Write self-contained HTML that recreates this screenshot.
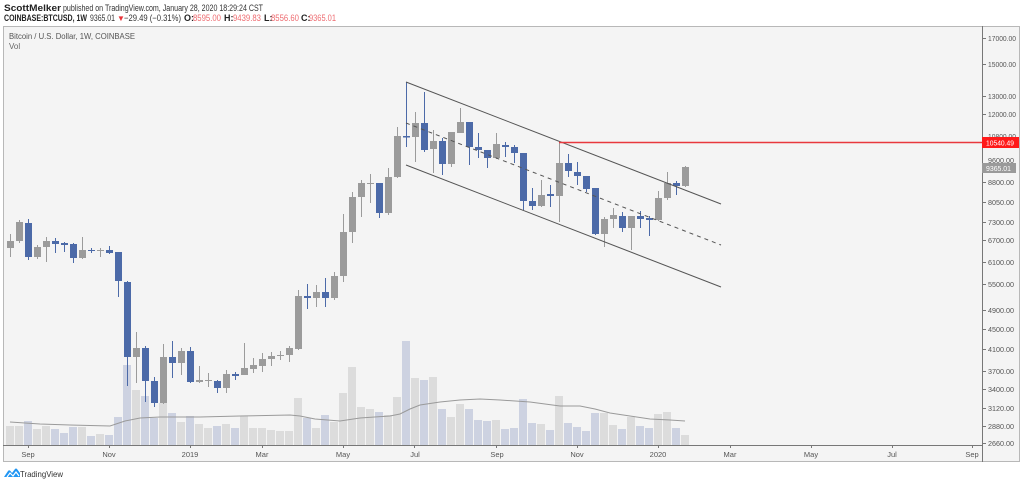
<!DOCTYPE html>
<html><head><meta charset="utf-8"><style>
html,body{margin:0;padding:0;background:#fff;width:1024px;height:484px;overflow:hidden}
svg{display:block}
text{font-family:"Liberation Sans",sans-serif}
</style></head><body>
<svg width="1024" height="484" viewBox="0 0 1024 484" xmlns="http://www.w3.org/2000/svg">
<rect width="1024" height="484" fill="#fff"/>
<!-- header -->
<text x="4" y="11" font-size="9" fill="#222"><tspan font-weight="bold" textLength="57" lengthAdjust="spacingAndGlyphs">ScottMelker</tspan></text>
<text x="63" y="11" font-size="9" fill="#333" textLength="200" lengthAdjust="spacingAndGlyphs">published on TradingView.com, January 28, 2020 18:29:24 CST</text>
<text x="4" y="21" font-size="9" font-weight="bold" fill="#222" textLength="83" lengthAdjust="spacingAndGlyphs">COINBASE:BTCUSD, 1W</text>
<text x="90" y="21" font-size="9" fill="#333" textLength="25" lengthAdjust="spacingAndGlyphs">9365.01</text>
<text x="117" y="21" font-size="8" fill="#e8343a">▼</text>
<text x="124" y="21" font-size="9" fill="#333" textLength="57" lengthAdjust="spacingAndGlyphs">−29.49 (−0.31%)</text>
<text x="184" y="21" font-size="9" font-weight="bold" fill="#222">O:</text>
<text x="193" y="21" font-size="9" fill="#ee6b70" textLength="28" lengthAdjust="spacingAndGlyphs">8595.00</text>
<text x="224" y="21" font-size="9" font-weight="bold" fill="#222">H:</text>
<text x="233" y="21" font-size="9" fill="#ee6b70" textLength="28" lengthAdjust="spacingAndGlyphs">9439.83</text>
<text x="264" y="21" font-size="9" font-weight="bold" fill="#222">L:</text>
<text x="271" y="21" font-size="9" fill="#ee6b70" textLength="28" lengthAdjust="spacingAndGlyphs">8556.60</text>
<text x="301" y="21" font-size="9" font-weight="bold" fill="#222">C:</text>
<text x="309" y="21" font-size="9" fill="#ee6b70" textLength="27" lengthAdjust="spacingAndGlyphs">9365.01</text>

<!-- frame -->
<rect x="3.5" y="26.5" width="1016" height="435" fill="#f4f4f4" stroke="#b8b8b8" stroke-width="1"/>
<text x="9" y="39" font-size="8" fill="#555" textLength="126" lengthAdjust="spacingAndGlyphs">Bitcoin / U.S. Dollar, 1W, COINBASE</text>
<text x="9" y="49" font-size="8" fill="#666">Vol</text>

<!-- volume bars -->
<g id="vol">
<rect x="6" y="426" width="8" height="19" fill="#dcdcdc"/>
<rect x="15" y="426" width="8" height="19" fill="#dcdcdc"/>
<rect x="24" y="421" width="8" height="24" fill="#cdd2e1"/>
<rect x="33" y="429" width="8" height="16" fill="#dcdcdc"/>
<rect x="42" y="426" width="8" height="19" fill="#dcdcdc"/>
<rect x="51" y="429" width="8" height="16" fill="#cdd2e1"/>
<rect x="60" y="433" width="8" height="12" fill="#cdd2e1"/>
<rect x="69" y="427" width="8" height="18" fill="#cdd2e1"/>
<rect x="78" y="427" width="8" height="18" fill="#dcdcdc"/>
<rect x="87" y="436" width="8" height="9" fill="#cdd2e1"/>
<rect x="96" y="434" width="8" height="11" fill="#dcdcdc"/>
<rect x="105" y="435" width="8" height="10" fill="#cdd2e1"/>
<rect x="114" y="417" width="8" height="28" fill="#cdd2e1"/>
<rect x="123" y="365" width="8" height="80" fill="#cdd2e1"/>
<rect x="132" y="390" width="8" height="55" fill="#dcdcdc"/>
<rect x="141" y="396" width="8" height="49" fill="#cdd2e1"/>
<rect x="150" y="418" width="8" height="27" fill="#cdd2e1"/>
<rect x="159" y="403" width="8" height="42" fill="#dcdcdc"/>
<rect x="168" y="413" width="8" height="32" fill="#cdd2e1"/>
<rect x="177" y="422" width="8" height="23" fill="#dcdcdc"/>
<rect x="186" y="416" width="8" height="29" fill="#cdd2e1"/>
<rect x="195" y="424" width="8" height="21" fill="#dcdcdc"/>
<rect x="204" y="428" width="8" height="17" fill="#dcdcdc"/>
<rect x="213" y="426" width="8" height="19" fill="#cdd2e1"/>
<rect x="222" y="424" width="8" height="21" fill="#dcdcdc"/>
<rect x="231" y="428" width="8" height="17" fill="#cdd2e1"/>
<rect x="240" y="416" width="8" height="29" fill="#dcdcdc"/>
<rect x="249" y="428" width="8" height="17" fill="#dcdcdc"/>
<rect x="258" y="428" width="8" height="17" fill="#dcdcdc"/>
<rect x="267" y="430" width="8" height="15" fill="#dcdcdc"/>
<rect x="276" y="431" width="8" height="14" fill="#dcdcdc"/>
<rect x="285" y="431" width="8" height="14" fill="#dcdcdc"/>
<rect x="294" y="398" width="8" height="47" fill="#dcdcdc"/>
<rect x="303" y="418" width="8" height="27" fill="#cdd2e1"/>
<rect x="312" y="428" width="8" height="17" fill="#dcdcdc"/>
<rect x="321" y="415" width="8" height="30" fill="#cdd2e1"/>
<rect x="330" y="422" width="8" height="23" fill="#dcdcdc"/>
<rect x="339" y="393" width="8" height="52" fill="#dcdcdc"/>
<rect x="348" y="367" width="8" height="78" fill="#dcdcdc"/>
<rect x="357" y="407" width="8" height="38" fill="#dcdcdc"/>
<rect x="366" y="409" width="8" height="36" fill="#dcdcdc"/>
<rect x="375" y="412" width="8" height="33" fill="#cdd2e1"/>
<rect x="384" y="415" width="8" height="30" fill="#dcdcdc"/>
<rect x="393" y="397" width="8" height="48" fill="#dcdcdc"/>
<rect x="402" y="341" width="8" height="104" fill="#cdd2e1"/>
<rect x="411" y="378" width="8" height="67" fill="#dcdcdc"/>
<rect x="420" y="380" width="8" height="65" fill="#cdd2e1"/>
<rect x="429" y="377" width="8" height="68" fill="#dcdcdc"/>
<rect x="438" y="409" width="8" height="36" fill="#cdd2e1"/>
<rect x="447" y="417" width="8" height="28" fill="#dcdcdc"/>
<rect x="456" y="404" width="8" height="41" fill="#dcdcdc"/>
<rect x="465" y="409" width="8" height="36" fill="#cdd2e1"/>
<rect x="474" y="420" width="8" height="25" fill="#cdd2e1"/>
<rect x="483" y="421" width="8" height="24" fill="#cdd2e1"/>
<rect x="492" y="420" width="8" height="25" fill="#dcdcdc"/>
<rect x="501" y="429" width="8" height="16" fill="#cdd2e1"/>
<rect x="510" y="428" width="8" height="17" fill="#cdd2e1"/>
<rect x="519" y="399" width="8" height="46" fill="#cdd2e1"/>
<rect x="528" y="423" width="8" height="22" fill="#cdd2e1"/>
<rect x="537" y="424" width="8" height="21" fill="#dcdcdc"/>
<rect x="546" y="430" width="8" height="15" fill="#cdd2e1"/>
<rect x="555" y="396" width="8" height="49" fill="#dcdcdc"/>
<rect x="564" y="423" width="8" height="22" fill="#cdd2e1"/>
<rect x="573" y="427" width="8" height="18" fill="#cdd2e1"/>
<rect x="582" y="431" width="8" height="14" fill="#cdd2e1"/>
<rect x="591" y="413" width="8" height="32" fill="#cdd2e1"/>
<rect x="600" y="413" width="8" height="32" fill="#dcdcdc"/>
<rect x="609" y="425" width="8" height="20" fill="#dcdcdc"/>
<rect x="618" y="429" width="8" height="16" fill="#cdd2e1"/>
<rect x="627" y="417" width="8" height="28" fill="#dcdcdc"/>
<rect x="636" y="426" width="8" height="19" fill="#cdd2e1"/>
<rect x="645" y="428" width="8" height="17" fill="#cdd2e1"/>
<rect x="654" y="414" width="8" height="31" fill="#dcdcdc"/>
<rect x="663" y="412" width="8" height="33" fill="#dcdcdc"/>
<rect x="672" y="428" width="8" height="17" fill="#cdd2e1"/>
<rect x="681" y="435" width="8" height="10" fill="#dcdcdc"/>
</g>
<!-- volume MA -->
<polyline fill="none" stroke="#9a9a9a" stroke-width="1" points="10,422 40,424 70,425 110,426 125,421 140,418 160,417 200,417 240,416 290,415 300,416 315,419 340,421 360,418 390,416 400,414 410,409 420,405 440,402 460,400 480,399 500,400 530,402 560,406 580,406 595,409 610,413 630,416 650,419 670,420 685,421"/>

<!-- candles -->
<g id="candles">
<!-- wicks -->
<g fill="#9b9b9b">
<rect x="10" y="234" width="1" height="23"/>
<rect x="19" y="220" width="1" height="23"/>
<rect x="37" y="245" width="1" height="14"/>
<rect x="46" y="237" width="1" height="25"/>
<rect x="82" y="237" width="1" height="22"/>
<rect x="100" y="248" width="1" height="9"/>
<rect x="136" y="332" width="1" height="51"/>
<rect x="163" y="344" width="1" height="60"/>
<rect x="181" y="348" width="1" height="27"/>
<rect x="199" y="366" width="1" height="17"/>
<rect x="208" y="373" width="1" height="14"/>
<rect x="226" y="370" width="1" height="23"/>
<rect x="244" y="343" width="1" height="32"/>
<rect x="253" y="358" width="1" height="15"/>
<rect x="262" y="353" width="1" height="19"/>
<rect x="271" y="352" width="1" height="14"/>
<rect x="280" y="351" width="1" height="9"/>
<rect x="289" y="346" width="1" height="16"/>
<rect x="298" y="290" width="1" height="60"/>
<rect x="316" y="285" width="1" height="22"/>
<rect x="334" y="272" width="1" height="28"/>
<rect x="343" y="214" width="1" height="68"/>
<rect x="352" y="192" width="1" height="51"/>
<rect x="361" y="180" width="1" height="37"/>
<rect x="370" y="174" width="1" height="29"/>
<rect x="388" y="168" width="1" height="47"/>
<rect x="397" y="127" width="1" height="51"/>
<rect x="415" y="112" width="1" height="50"/>
<rect x="433" y="130" width="1" height="43"/>
<rect x="451" y="132" width="1" height="35"/>
<rect x="460" y="108" width="1" height="25"/>
<rect x="496" y="133" width="1" height="26"/>
<rect x="541" y="180" width="1" height="27"/>
<rect x="559" y="142" width="1" height="80"/>
<rect x="604" y="217" width="1" height="30"/>
<rect x="613" y="208" width="1" height="20"/>
<rect x="631" y="216" width="1" height="34"/>
<rect x="658" y="191" width="1" height="30"/>
<rect x="667" y="172" width="1" height="28"/>
<rect x="685" y="166" width="1" height="21"/>
</g>
<g fill="#4c6aa8">
<rect x="28" y="219" width="1" height="41"/>
<rect x="55" y="238" width="1" height="15"/>
<rect x="64" y="242" width="1" height="10"/>
<rect x="73" y="243" width="1" height="20"/>
<rect x="91" y="248" width="1" height="5"/>
<rect x="109" y="246" width="1" height="8"/>
<rect x="118" y="252" width="1" height="45"/>
<rect x="127" y="281" width="1" height="105"/>
<rect x="145" y="346" width="1" height="56"/>
<rect x="154" y="377" width="1" height="30"/>
<rect x="172" y="341" width="1" height="37"/>
<rect x="190" y="347" width="1" height="36"/>
<rect x="217" y="380" width="1" height="13"/>
<rect x="235" y="372" width="1" height="8"/>
<rect x="307" y="284" width="1" height="25"/>
<rect x="325" y="278" width="1" height="29"/>
<rect x="379" y="183" width="1" height="35"/>
<rect x="406" y="82" width="1" height="65"/>
<rect x="424" y="92" width="1" height="60"/>
<rect x="442" y="138" width="1" height="37"/>
<rect x="469" y="122" width="1" height="43"/>
<rect x="478" y="133" width="1" height="25"/>
<rect x="487" y="150" width="1" height="18"/>
<rect x="505" y="142" width="1" height="15"/>
<rect x="514" y="145" width="1" height="18"/>
<rect x="523" y="153" width="1" height="57"/>
<rect x="532" y="188" width="1" height="22"/>
<rect x="550" y="185" width="1" height="22"/>
<rect x="568" y="154" width="1" height="23"/>
<rect x="577" y="162" width="1" height="23"/>
<rect x="586" y="176" width="1" height="16"/>
<rect x="595" y="188" width="1" height="47"/>
<rect x="622" y="212" width="1" height="20"/>
<rect x="640" y="211" width="1" height="17"/>
<rect x="649" y="216" width="1" height="20"/>
<rect x="676" y="181" width="1" height="14"/>
</g>
<!-- bodies up -->
<g fill="#9b9b9b">
<rect x="7" y="241" width="7" height="7"/>
<rect x="16" y="222" width="7" height="19"/>
<rect x="34" y="247" width="7" height="10"/>
<rect x="43" y="241" width="7" height="6"/>
<rect x="79" y="250" width="7" height="8"/>
<rect x="97" y="250" width="7" height="1"/>
<rect x="133" y="348" width="7" height="9"/>
<rect x="160" y="357" width="7" height="46"/>
<rect x="178" y="351" width="7" height="12"/>
<rect x="196" y="380" width="7" height="2"/>
<rect x="205" y="380" width="7" height="1"/>
<rect x="223" y="374" width="7" height="14"/>
<rect x="241" y="368" width="7" height="7"/>
<rect x="250" y="365" width="7" height="4"/>
<rect x="259" y="359" width="7" height="7"/>
<rect x="268" y="356" width="7" height="3"/>
<rect x="277" y="355" width="7" height="1"/>
<rect x="286" y="348" width="7" height="7"/>
<rect x="295" y="296" width="7" height="53"/>
<rect x="313" y="292" width="7" height="6"/>
<rect x="331" y="276" width="7" height="22"/>
<rect x="340" y="232" width="7" height="44"/>
<rect x="349" y="197" width="7" height="35"/>
<rect x="358" y="183" width="7" height="14"/>
<rect x="367" y="183" width="7" height="1"/>
<rect x="385" y="177" width="7" height="36"/>
<rect x="394" y="136" width="7" height="41"/>
<rect x="412" y="123" width="7" height="14"/>
<rect x="430" y="141" width="7" height="8"/>
<rect x="448" y="132" width="7" height="32"/>
<rect x="457" y="122" width="7" height="11"/>
<rect x="493" y="144" width="7" height="14"/>
<rect x="538" y="195" width="7" height="11"/>
<rect x="556" y="163" width="7" height="33"/>
<rect x="601" y="219" width="7" height="15"/>
<rect x="610" y="215" width="7" height="4"/>
<rect x="628" y="216" width="7" height="12"/>
<rect x="655" y="198" width="7" height="22"/>
<rect x="664" y="183" width="7" height="15"/>
<rect x="682" y="167" width="7" height="19"/>
</g>
<!-- bodies down -->
<g fill="#4c6aa8">
<rect x="25" y="223" width="7" height="34"/>
<rect x="52" y="241" width="7" height="3"/>
<rect x="61" y="243" width="7" height="2"/>
<rect x="70" y="244" width="7" height="14"/>
<rect x="88" y="250" width="7" height="1"/>
<rect x="106" y="250" width="7" height="3"/>
<rect x="115" y="252" width="7" height="29"/>
<rect x="124" y="282" width="7" height="75"/>
<rect x="142" y="348" width="7" height="33"/>
<rect x="151" y="381" width="7" height="22"/>
<rect x="169" y="357" width="7" height="6"/>
<rect x="187" y="351" width="7" height="31"/>
<rect x="214" y="381" width="7" height="7"/>
<rect x="232" y="374" width="7" height="2"/>
<rect x="304" y="296" width="7" height="2"/>
<rect x="322" y="292" width="7" height="6"/>
<rect x="376" y="183" width="7" height="30"/>
<rect x="403" y="136" width="7" height="1.5"/>
<rect x="421" y="123" width="7" height="27"/>
<rect x="439" y="141" width="7" height="23"/>
<rect x="466" y="122" width="7" height="25"/>
<rect x="475" y="147" width="7" height="3"/>
<rect x="484" y="150" width="7" height="8"/>
<rect x="502" y="145" width="7" height="2"/>
<rect x="511" y="147" width="7" height="6"/>
<rect x="520" y="153" width="7" height="48"/>
<rect x="529" y="201" width="7" height="5"/>
<rect x="547" y="194" width="7" height="2"/>
<rect x="565" y="163" width="7" height="8"/>
<rect x="574" y="172" width="7" height="4"/>
<rect x="583" y="176" width="7" height="13"/>
<rect x="592" y="188" width="7" height="46"/>
<rect x="619" y="216" width="7" height="12"/>
<rect x="637" y="216" width="7" height="3"/>
<rect x="646" y="218" width="7" height="2"/>
<rect x="673" y="183" width="7" height="3"/>
</g>
</g>

<!-- channel -->
<line x1="406" y1="82" x2="721" y2="204" stroke="#555" stroke-width="1"/>
<line x1="406" y1="165" x2="721" y2="287" stroke="#555" stroke-width="1"/>
<line x1="406" y1="123" x2="721" y2="245" stroke="#555" stroke-width="1" stroke-dasharray="4,4"/>
<!-- red level -->
<line x1="559" y1="142.5" x2="982" y2="142.5" stroke="#e8383d" stroke-width="1.6"/>

<!-- price axis -->
<line x1="982.5" y1="26" x2="982.5" y2="462" stroke="#777" stroke-width="1"/>
<g font-size="7.5" fill="#555">
<g stroke="#777" stroke-width="1">
<line x1="983" y1="38.5" x2="986" y2="38.5"/>
<line x1="983" y1="64.5" x2="986" y2="64.5"/>
<line x1="983" y1="96.5" x2="986" y2="96.5"/>
<line x1="983" y1="114.5" x2="986" y2="114.5"/>
<line x1="983" y1="182.5" x2="986" y2="182.5"/>
<line x1="983" y1="202.5" x2="986" y2="202.5"/>
<line x1="983" y1="222.5" x2="986" y2="222.5"/>
<line x1="983" y1="240.5" x2="986" y2="240.5"/>
<line x1="983" y1="262.5" x2="986" y2="262.5"/>
<line x1="983" y1="284.5" x2="986" y2="284.5"/>
<line x1="983" y1="310.5" x2="986" y2="310.5"/>
<line x1="983" y1="329.5" x2="986" y2="329.5"/>
<line x1="983" y1="349.5" x2="986" y2="349.5"/>
<line x1="983" y1="371.5" x2="986" y2="371.5"/>
<line x1="983" y1="389.5" x2="986" y2="389.5"/>
<line x1="983" y1="408.5" x2="986" y2="408.5"/>
<line x1="983" y1="426.5" x2="986" y2="426.5"/>
<line x1="983" y1="443.5" x2="986" y2="443.5"/>
</g>
<text x="988" y="41" textLength="28" lengthAdjust="spacingAndGlyphs">17000.00</text>
<text x="988" y="67" textLength="28" lengthAdjust="spacingAndGlyphs">15000.00</text>
<text x="988" y="99" textLength="28" lengthAdjust="spacingAndGlyphs">13000.00</text>
<text x="988" y="117" textLength="28" lengthAdjust="spacingAndGlyphs">12000.00</text>
<text x="988" y="139" textLength="28" lengthAdjust="spacingAndGlyphs">10800.00</text>
<text x="988" y="163" textLength="26" lengthAdjust="spacingAndGlyphs">9600.00</text>
<text x="988" y="185" textLength="26" lengthAdjust="spacingAndGlyphs">8800.00</text>
<text x="988" y="205" textLength="26" lengthAdjust="spacingAndGlyphs">8050.00</text>
<text x="988" y="225" textLength="26" lengthAdjust="spacingAndGlyphs">7300.00</text>
<text x="988" y="243" textLength="26" lengthAdjust="spacingAndGlyphs">6700.00</text>
<text x="988" y="265" textLength="26" lengthAdjust="spacingAndGlyphs">6100.00</text>
<text x="988" y="287" textLength="26" lengthAdjust="spacingAndGlyphs">5500.00</text>
<text x="988" y="313" textLength="26" lengthAdjust="spacingAndGlyphs">4900.00</text>
<text x="988" y="332" textLength="26" lengthAdjust="spacingAndGlyphs">4500.00</text>
<text x="988" y="352" textLength="26" lengthAdjust="spacingAndGlyphs">4100.00</text>
<text x="988" y="374" textLength="26" lengthAdjust="spacingAndGlyphs">3700.00</text>
<text x="988" y="392" textLength="26" lengthAdjust="spacingAndGlyphs">3400.00</text>
<text x="988" y="411" textLength="26" lengthAdjust="spacingAndGlyphs">3120.00</text>
<text x="988" y="429" textLength="26" lengthAdjust="spacingAndGlyphs">2880.00</text>
<text x="988" y="446" textLength="26" lengthAdjust="spacingAndGlyphs">2660.00</text>
</g>
<!-- price labels -->
<rect x="982" y="137" width="37" height="11" fill="#ff1a1a"/>
<text x="986" y="145.5" font-size="7.5" fill="#fff" textLength="28" lengthAdjust="spacingAndGlyphs">10540.49</text>
<rect x="982" y="163" width="34" height="10" fill="#9a9a9a"/>
<text x="986" y="171" font-size="7.5" fill="#fff" textLength="25" lengthAdjust="spacingAndGlyphs">9365.01</text>

<!-- time axis -->
<line x1="3" y1="445.5" x2="983" y2="445.5" stroke="#777" stroke-width="1"/>
<g stroke="#777" stroke-width="1">
<line x1="28.5" y1="446" x2="28.5" y2="448"/>
<line x1="109.5" y1="446" x2="109.5" y2="448"/>
<line x1="190.5" y1="446" x2="190.5" y2="448"/>
<line x1="262.5" y1="446" x2="262.5" y2="448"/>
<line x1="343.5" y1="446" x2="343.5" y2="448"/>
<line x1="414.5" y1="446" x2="414.5" y2="448"/>
<line x1="496.5" y1="446" x2="496.5" y2="448"/>
<line x1="577.5" y1="446" x2="577.5" y2="448"/>
<line x1="658.5" y1="446" x2="658.5" y2="448"/>
<line x1="730.5" y1="446" x2="730.5" y2="448"/>
<line x1="811.5" y1="446" x2="811.5" y2="448"/>
<line x1="892.5" y1="446" x2="892.5" y2="448"/>
<line x1="972.5" y1="446" x2="972.5" y2="448"/>
</g>
<g font-size="7.5" fill="#555" text-anchor="middle">
<text x="28" y="457">Sep</text>
<text x="109" y="457">Nov</text>
<text x="190" y="457">2019</text>
<text x="262" y="457">Mar</text>
<text x="343" y="457">May</text>
<text x="415" y="457">Jul</text>
<text x="497" y="457">Sep</text>
<text x="577" y="457">Nov</text>
<text x="658" y="457">2020</text>
<text x="730" y="457">Mar</text>
<text x="811" y="457">May</text>
<text x="892" y="457">Jul</text>
<text x="972" y="457">Sep</text>
</g>

<!-- TradingView logo -->
<g transform="translate(4,468)">
<path d="M0,9 L4,3 Q5,1.5 6.5,3 L8,5 L11,1 Q12,0 13,1 L16,5 L16,9 Z" fill="#2196f3"/>
<path d="M3,9 L6,5 L9,8 L12,4 L15,8" fill="none" stroke="#fff" stroke-width="1.2"/>
</g>
<text x="20" y="477" font-size="8.5" fill="#333" textLength="43" lengthAdjust="spacingAndGlyphs">TradingView</text>
</svg>
</body></html>
